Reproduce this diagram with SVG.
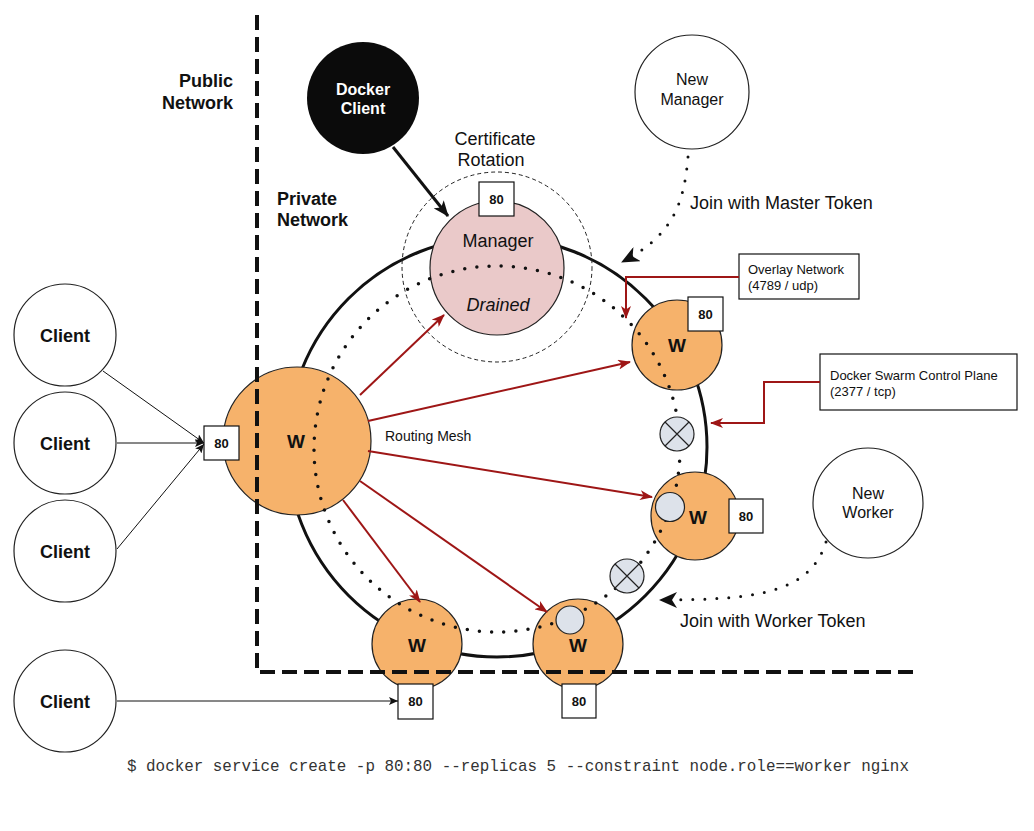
<svg xmlns="http://www.w3.org/2000/svg" width="1034" height="831" viewBox="0 0 1034 831">
<style>
text{font-family:"Liberation Sans",Arial,sans-serif;fill:#111}
.b{font-weight:bold}
.lbl{font-size:18px}
.cl{font-size:18px;font-weight:bold;text-anchor:middle}
.w{font-size:19px;font-weight:bold;text-anchor:middle}
.p80{font-size:13px;font-weight:bold;text-anchor:middle}
.box{fill:#fff;stroke:#111;stroke-width:1.2}
.wk{fill:#F6B26B;stroke:#222;stroke-width:1.2}
.inner{fill:#DDE2EA;stroke:#222;stroke-width:1.2}
.red{stroke:#9E1616;stroke-width:2;fill:none;marker-end:url(#ra)}
.thin{stroke:#111;stroke-width:1;fill:none;marker-end:url(#ta)}
.dots{fill:none;stroke:#111;stroke-width:3.5;stroke-linecap:round;stroke-dasharray:0 12.2}
.dash{fill:none;stroke:#111;stroke-width:4;stroke-dasharray:15 7}
.small{font-size:13px}
</style>
<defs>
<marker id="ra" markerUnits="userSpaceOnUse" markerWidth="13" markerHeight="10" refX="12" refY="5" orient="auto"><path d="M0,0 L13,5 L0,10 L3.5,5 z" fill="#9E1616"/></marker>
<marker id="ta" markerUnits="userSpaceOnUse" markerWidth="9" markerHeight="8" refX="9" refY="4" orient="auto"><path d="M0,0 L9,4 L0,8 L2,4 z" fill="#111"/></marker>
<marker id="ba" markerUnits="userSpaceOnUse" markerWidth="16" markerHeight="13" refX="15" refY="6.5" orient="auto"><path d="M0,0 L16,6.5 L0,13 L4,6.5 z" fill="#111"/></marker>
<marker id="ja" markerUnits="userSpaceOnUse" markerWidth="18" markerHeight="16" refX="17" refY="8" orient="auto"><path d="M0,0 L18,8 L0,16 L5,8 z" fill="#111"/></marker>
</defs>

<g id="ring"><circle cx="497" cy="447" r="210" fill="none" stroke="#111" stroke-width="3"/></g>

<g id="labels">
<text class="lbl b" x="233" y="87" text-anchor="end">Public</text>
<text class="lbl b" x="233" y="109" text-anchor="end">Network</text>
<text class="lbl b" x="277" y="205">Private</text>
<text class="lbl b" x="277" y="226">Network</text>
<text class="lbl" x="495" y="145" text-anchor="middle">Certificate</text>
<text class="lbl" x="491" y="166" text-anchor="middle">Rotation</text>
<text class="lbl" x="690" y="209">Join with Master Token</text>
<text class="lbl" x="680" y="627">Join with Worker Token</text>
<text x="385" y="441" font-size="14">Routing Mesh</text>
<text x="127" y="771" font-size="15.9" style="font-family:'Liberation Mono','Courier New',monospace;fill:#333">$ docker service create -p 80:80 --replicas 5 --constraint node.role==worker nginx</text>
</g>

<g id="docker-client"><circle cx="363" cy="98" r="56" fill="#0b0b0b"/>
<text x="363" y="95" font-size="16" class="b" text-anchor="middle" style="fill:#fff">Docker</text>
<text x="363" y="114" font-size="16" class="b" text-anchor="middle" style="fill:#fff">Client</text></g>

<g id="new-manager"><circle cx="692" cy="92" r="57" fill="#fff" stroke="#222" stroke-width="1.2"/>
<text x="692" y="85" font-size="16" text-anchor="middle">New</text>
<text x="692" y="105" font-size="16" text-anchor="middle">Manager</text></g>

<g id="new-worker"><circle cx="868" cy="503" r="55" fill="#fff" stroke="#222" stroke-width="1.2"/>
<text x="868" y="499" font-size="16" text-anchor="middle">New</text>
<text x="868" y="518" font-size="16" text-anchor="middle">Worker</text></g>

<g id="cert-rotation"><circle cx="497" cy="267" r="95" fill="none" stroke="#222" stroke-width="1" stroke-dasharray="4 3"/></g>

<g id="manager"><circle cx="497" cy="268" r="67" fill="#EAC9C9" stroke="#222" stroke-width="1.2"/>
<text class="lbl" x="498" y="247" text-anchor="middle">Manager</text>
<text class="lbl" x="498" y="311" text-anchor="middle" font-style="italic">Drained</text></g>

<g id="clients">
<g id="client1"><circle cx="65" cy="335" r="51" fill="#fff" stroke="#222" stroke-width="1.2"/><text class="cl" x="65" y="342">Client</text></g>
<g id="client2"><circle cx="65" cy="443" r="51" fill="#fff" stroke="#222" stroke-width="1.2"/><text class="cl" x="65" y="450">Client</text></g>
<g id="client3"><circle cx="65" cy="551" r="51" fill="#fff" stroke="#222" stroke-width="1.2"/><text class="cl" x="65" y="558">Client</text></g>
<g id="client4"><circle cx="65" cy="701" r="51" fill="#fff" stroke="#222" stroke-width="1.2"/><text class="cl" x="65" y="708">Client</text></g>
</g>

<g id="worker-left"><circle class="wk" cx="297" cy="441" r="74"/><text class="w" x="296" y="448">W</text></g>
<g id="worker-top-right"><circle class="wk" cx="677" cy="345" r="45"/><text class="w" x="677" y="352" font-size="18">W</text></g>
<g id="worker-right"><circle class="wk" cx="695" cy="516" r="44"/><text class="w" x="698" y="524" font-size="18">W</text></g>
<g id="worker-bottom-right"><circle class="wk" cx="578" cy="644" r="45"/><text class="w" x="578" y="652" font-size="18">W</text></g>
<g id="worker-bottom-left"><circle class="wk" cx="417" cy="644" r="45"/><text class="w" x="417" y="652" font-size="18">W</text></g>

<g id="network-boundary"><path class="dash" d="M257,15 V672 H920"/></g>

<g id="overlay-dots"><circle class="dots" cx="497" cy="449" r="183"/></g>

<g id="containers">
<circle class="inner" cx="670" cy="507" r="14.5"/>
<circle class="inner" cx="570" cy="620" r="14"/>
</g>
<g id="x1"><circle class="inner" cx="677" cy="434" r="17"/><path d="M665,422 L689,446 M689,422 L665,446" stroke="#222" stroke-width="1.2"/></g>
<g id="x2"><circle class="inner" cx="627" cy="576" r="17"/><path d="M615,564 L639,588 M639,564 L615,588" stroke="#222" stroke-width="1.2"/></g>

<g id="ports">
<g id="port-manager"><rect class="box" x="479" y="182" width="35" height="34"/><text class="p80" x="496.5" y="204">80</text></g>
<g id="port-left"><rect class="box" x="204" y="426" width="35" height="34"/><text class="p80" x="221.5" y="448">80</text></g>
<g id="port-tr"><rect class="box" x="688" y="297" width="35" height="34"/><text class="p80" x="705.5" y="319">80</text></g>
<g id="port-r"><rect class="box" x="729" y="499" width="34" height="34"/><text class="p80" x="746" y="521">80</text></g>
<g id="port-br"><rect class="box" x="562" y="684" width="34" height="34"/><text class="p80" x="579" y="706">80</text></g>
<g id="port-bl"><rect class="box" x="398" y="684" width="35" height="35"/><text class="p80" x="415.5" y="706">80</text></g>
</g>

<g id="callouts">
<g id="overlay-note"><rect class="box" x="739" y="254" width="120" height="45"/>
<text class="small" x="748" y="274">Overlay Network</text><text class="small" x="748" y="290">(4789 / udp)</text></g>
<g id="control-note"><rect class="box" x="820" y="354" width="197" height="56"/>
<text class="small" x="830" y="380">Docker Swarm Control Plane</text><text class="small" x="830" y="396">(2377 / tcp)</text></g>
</g>

<g id="connectors">
<line x1="393" y1="147" x2="448" y2="216" stroke="#111" stroke-width="3" marker-end="url(#ba)"/>
<path class="dots" style="stroke-width:3;stroke-dasharray:0 12;marker-end:url(#ja)" d="M688,157 C684,205 672,236 622,262"/>
<path class="dots" style="stroke-width:3;stroke-dasharray:0 12;marker-end:url(#ja)" d="M826,542 C810,592 760,600 660,600"/>
<path class="red" d="M739,277 H626 V318"/>
<path class="red" d="M820,382 H764 V423 H711"/>
<line class="red" x1="360" y1="395" x2="444" y2="315"/>
<line class="red" x1="368" y1="421" x2="630" y2="362"/>
<line class="red" x1="368" y1="451" x2="652" y2="497"/>
<line class="red" x1="360" y1="481" x2="547" y2="612"/>
<line class="red" x1="343" y1="500" x2="420" y2="602"/>
<line class="thin" x1="103" y1="371" x2="204" y2="443"/>
<line class="thin" x1="117" y1="443" x2="204" y2="443"/>
<line class="thin" x1="117" y1="549" x2="204" y2="444"/>
<line class="thin" x1="117" y1="701" x2="398" y2="701"/>
</g>
</svg>
